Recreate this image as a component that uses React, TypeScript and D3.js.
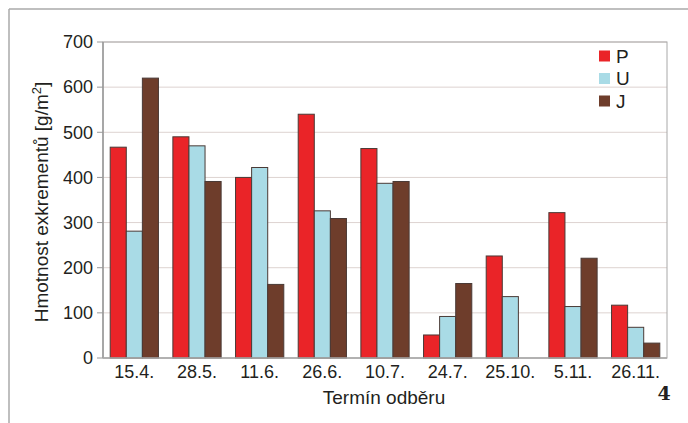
import React from "react";
import * as d3 from "d3";

const categories = ["15.4.", "28.5.", "11.6.", "26.6.", "10.7.", "24.7.", "25.10.", "5.11.", "26.11."];
const seriesNames = ["P", "U", "J"];
const valuesP = [467, 490, 400, 540, 464, 51, 226, 322, 117];
const valuesU = [281, 470, 422, 326, 387, 92, 136, 114, 68];
const valuesJ = [620, 391, 163, 309, 391, 165, 0, 221, 33];
const yTicks = [0, 100, 200, 300, 400, 500, 600, 700];
const colors = ["#ea2428", "#a9dbe6", "#6e3d2b"];

export default function App() {
  const W = 688, H = 423;
  const left = 103, right = 667, top = 42, bottom = 358;
  const x = d3.scaleBand<string>().domain(categories).range([left, right]).paddingInner(0.23).paddingOuter(0.115);
  const xs = d3.scaleBand<string>().domain(seriesNames).range([0, x.bandwidth()]);
  const y = d3.scaleLinear().domain([0, 700]).range([bottom, top]);
  const data = [valuesP, valuesU, valuesJ];
  const font = "'Liberation Sans', Arial, sans-serif";

  return (
    <svg width={W} height={H} style={{ position: "absolute", left: 0, top: 0, background: "#fff" }} fontFamily={font}>
      <rect x={0} y={0} width={W} height={H} fill="#fff" />
      {/* outer frame */}
      <line x1={9} y1={9} x2={W} y2={9} stroke="#aaa" strokeWidth={1.5} />
      <line x1={9} y1={9} x2={9} y2={H} stroke="#aaa" strokeWidth={1.5} />
      {/* gridlines */}
      {yTicks.map((t) => (
        <line key={t} x1={left} x2={right} y1={y(t)} y2={y(t)} stroke="#ddd3d0" strokeWidth={1} />
      ))}
      {/* plot border */}
      <rect x={left} y={top} width={right - left} height={bottom - top} fill="none" stroke="#a8a8a8" strokeWidth={1} />
      {/* bars */}
      {seriesNames.map((s, si) =>
        categories.map((c, ci) => {
          const v = data[si][ci];
          if (!v) return null;
          return (
            <rect
              key={s + c}
              x={(x(c) as number) + (xs(s) as number)}
              y={y(v)}
              width={xs.bandwidth()}
              height={y(0) - y(v)}
              fill={colors[si]}
              stroke="#4a3a36"
              strokeWidth={1}
            />
          );
        })
      )}
      {/* axes */}
      <line x1={left} x2={left} y1={top} y2={bottom} stroke="#999" strokeWidth={1.5} />
      <line x1={left} x2={right} y1={bottom} y2={bottom} stroke="#aaa" strokeWidth={1.5} />
      {yTicks.map((t) => (
        <g key={"t" + t}>
          <line x1={left - 6} x2={left} y1={y(t)} y2={y(t)} stroke="#999" strokeWidth={1} />
          <text x={93} y={y(t)} dy="0.35em" textAnchor="end" fontSize={18} fill="#231f20">
            {t}
          </text>
        </g>
      ))}
      {categories.map((c) => (
        <text key={"c" + c} x={(x(c) as number) + x.bandwidth() / 2} y={378} textAnchor="middle" fontSize={18} fill="#231f20">
          {c}
        </text>
      ))}
      <text transform="translate(48,202) rotate(-90)" textAnchor="middle" fontSize={19} fill="#231f20">
        Hmotnost exkrementů [g/m<tspan dy="-7" fontSize={13}>2</tspan><tspan dy="7">]</tspan>
      </text>
      <text x={384} y={404} textAnchor="middle" fontSize={19} fill="#231f20">
        Termín odběru
      </text>
      <text x={664} y={400} textAnchor="middle" fontSize={19} fontWeight="bold" fontFamily="'DejaVu Serif', serif" fill="#231f20">
        4
      </text>
      {/* legend */}
      {seriesNames.map((s, i) => (
        <g key={"l" + s} transform={`translate(599, ${56 + i * 22.5})`}>
          <rect x={0} y={-5.5} width={11} height={11} fill={colors[i]} />
          <text x={17} y={0} dy="0.36em" fontSize={19} fill="#231f20">
            {s}
          </text>
        </g>
      ))}
    </svg>
  );
}
